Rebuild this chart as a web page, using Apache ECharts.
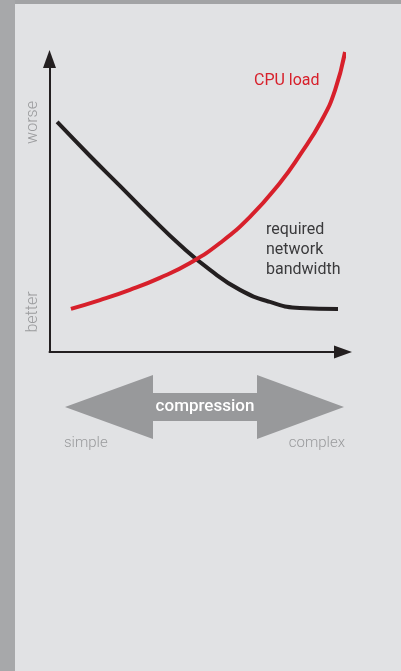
<!DOCTYPE html>
<html>
<head>
<meta charset="utf-8">
<style>
  html, body { margin: 0; padding: 0; background: #e1e2e4; }
  #chart { width: 401px; height: 671px; }
</style>
<script src="https://cdn.jsdelivr.net/npm/echarts@6/dist/echarts.min.js"></script>
</head>
<body>
<div id="chart"></div>
<script>
// Compression trade-off sketch: both curves on a 0..100 "simple→complex" / "better→worse" scale.
const complexityBandwidth = [2.6, 13.8, 24.0, 34.2, 44.5, 54.7, 64.9, 75.1, 85.3, 98.3];
const bandwidthLevel      = [78.5, 66.9, 56.7, 46.4, 36.5, 28.0, 21.2, 17.1, 15.0, 14.7];

const complexityCpu = [7.3, 17.2, 27.4, 37.6, 47.9, 58.1, 68.3, 78.5, 85.3, 92.8, 97.3, 100.7];
const cpuLevel      = [14.7, 17.7, 21.2, 25.3, 30.4, 37.2, 46.1, 57.7, 67.2, 79.2, 89.4, 102.4];

const cpuLabel = 'CPU load';
const bandwidthLabel = ['required', 'network', 'bandwidth'];
const axisLow = 'better';
const axisHigh = 'worse';
const scaleLeft = 'simple';
const scaleRight = 'complex';
const scaleTitle = 'compression';

const zip = (xs, ys) => xs.map((x, i) => [x, ys[i]]);

const FONT = 'Roboto, "Noto Sans", sans-serif';
const INK = '#231f20';
const RED = '#d7202b';
const GREY_TEXT = '#9a9b9d';

const chart = echarts.init(document.getElementById('chart'), null, { renderer: 'canvas' });

const axisLine = {
  show: true,
  onZero: false,
  symbol: ['none', 'triangle'],
  symbolSize: [13, 18],
  lineStyle: { color: INK, width: 2 }
};

chart.setOption({
  backgroundColor: '#e1e2e4',
  animation: false,
  grid: { left: 49.5, top: 59, right: 58, bottom: 319 },
  xAxis: {
    type: 'value', min: 0, max: 100,
    axisLine: axisLine,
    axisTick: { show: false }, axisLabel: { show: false }, splitLine: { show: false }
  },
  yAxis: {
    type: 'value', min: 0, max: 100,
    axisLine: axisLine,
    axisTick: { show: false }, axisLabel: { show: false }, splitLine: { show: false }
  },
  series: [
    {
      type: 'line', name: bandwidthLabel.join(' '),
      data: zip(complexityBandwidth, bandwidthLevel),
      smooth: 0.5, showSymbol: false, clip: false,
      lineStyle: { color: INK, width: 4, cap: 'butt' }
    },
    {
      type: 'line', name: cpuLabel,
      data: zip(complexityCpu, cpuLevel),
      smooth: 0.5, showSymbol: false, clip: false,
      lineStyle: { color: RED, width: 4, cap: 'butt' }
    }
  ],
  graphic: [
    // page frame strips
    { type: 'rect', shape: { x: 0, y: 0, width: 401, height: 4 }, style: { fill: '#a2a3a5' }, z: 10 },
    { type: 'rect', shape: { x: 0, y: 0, width: 15, height: 671 }, style: { fill: '#a7a8aa' }, z: 10 },

    // curve annotations
    { type: 'text', x: 254, y: 80.5, style: { text: cpuLabel, fill: RED, font: '16px ' + FONT, textVerticalAlign: 'middle' } },
    { type: 'text', x: 266, y: 229.5, style: { text: bandwidthLabel[0], fill: '#3a3a3c', font: '16px ' + FONT, textVerticalAlign: 'middle' } },
    { type: 'text', x: 266, y: 249.5, style: { text: bandwidthLabel[1], fill: '#3a3a3c', font: '16px ' + FONT, textVerticalAlign: 'middle' } },
    { type: 'text', x: 266, y: 270, style: { text: bandwidthLabel[2], fill: '#3a3a3c', font: '16px ' + FONT, textVerticalAlign: 'middle' } },

    // vertical scale words
    { type: 'text', x: 33, y: 122.5, rotation: Math.PI / 2,
      style: { text: axisHigh, fill: GREY_TEXT, font: '300 16px ' + FONT, textAlign: 'center', textVerticalAlign: 'middle' } },
    { type: 'text', x: 33, y: 312, rotation: Math.PI / 2,
      style: { text: axisLow, fill: GREY_TEXT, font: '300 16px ' + FONT, textAlign: 'center', textVerticalAlign: 'middle' } },

    // compression double arrow
    { type: 'polygon',
      shape: { points: [[65, 407], [153, 375], [153, 393], [257, 393], [257, 375], [344, 407],
                        [257, 439], [257, 421], [153, 421], [153, 439]] },
      style: { fill: '#98999b' } },
    { type: 'text', x: 205, y: 406.5,
      style: { text: scaleTitle, fill: '#ffffff', font: '500 17px ' + FONT, textAlign: 'center', textVerticalAlign: 'middle' } },
    { type: 'text', x: 64, y: 443,
      style: { text: scaleLeft, fill: GREY_TEXT, font: '300 15px ' + FONT, textVerticalAlign: 'middle' } },
    { type: 'text', x: 345, y: 443,
      style: { text: scaleRight, fill: GREY_TEXT, font: '300 15px ' + FONT, textAlign: 'right', textVerticalAlign: 'middle' } }
  ]
});
</script>
</body>
</html>
